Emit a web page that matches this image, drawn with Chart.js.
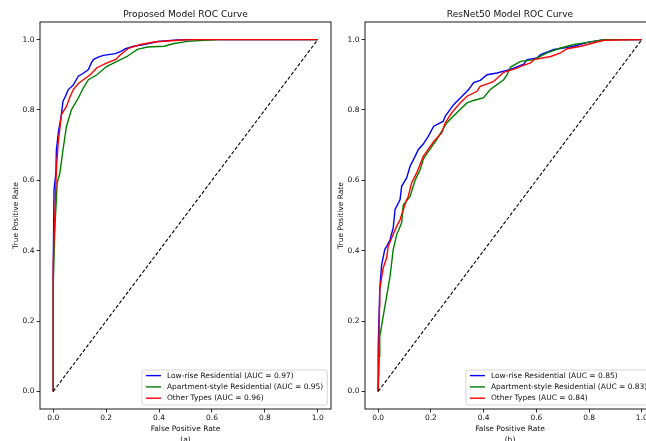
<!DOCTYPE html>
<html>
<head>
<meta charset="utf-8">
<script src="https://cdn.jsdelivr.net/npm/chart.js@4/dist/chart.umd.min.js"></script>
<style>
  html, body { margin: 0; padding: 0; background: #fff; overflow: hidden; }
  body { width: 646px; height: 441px; position: relative; }
  canvas { position: absolute; top: 0; }
  #left { left: 0; }
  #right { left: 325px; }
</style>
</head>
<body>
<canvas id="left" width="340" height="441"></canvas>
<canvas id="right" width="340" height="441"></canvas>
<script>
const tickValues = [0.0, 0.2, 0.4, 0.6, 0.8, 1.0];
const classLabels = ["Low-rise Residential", "Apartment-style Residential", "Other Types"];
const classColors = ["blue", "green", "red"];
const proposedAuc = [0.97, 0.95, 0.96];
const resnetAuc = [0.85, 0.83, 0.84];

// Proposed model curves
const propLowFpr = [0, 0, 0.003, 0.01, 0.012, 0.02, 0.029, 0.037, 0.047, 0.057, 0.075, 0.095, 0.115, 0.133, 0.145, 0.152, 0.17, 0.19, 0.235, 0.26, 0.273, 0.305, 0.343, 0.37, 0.394, 0.47, 0.52, 1];
const propLowTpr = [0, 0.35, 0.573, 0.62, 0.687, 0.74, 0.777, 0.825, 0.84, 0.858, 0.87, 0.896, 0.905, 0.915, 0.935, 0.943, 0.95, 0.955, 0.96, 0.968, 0.974, 0.981, 0.986, 0.99, 0.995, 0.999, 1.0, 1.0];
const propAptFpr = [0, 0, 0.006, 0.015, 0.025, 0.037, 0.05, 0.069, 0.095, 0.114, 0.133, 0.165, 0.203, 0.241, 0.279, 0.318, 0.356, 0.419, 0.457, 0.508, 0.572, 0.623, 1];
const propAptTpr = [0, 0.3, 0.46, 0.593, 0.62, 0.687, 0.753, 0.801, 0.834, 0.863, 0.886, 0.9, 0.924, 0.938, 0.952, 0.972, 0.979, 0.981, 0.989, 0.995, 0.998, 1.0, 1.0];
const propOthFpr = [0, 0, 0.006, 0.012, 0.018, 0.031, 0.05, 0.062, 0.076, 0.095, 0.114, 0.14, 0.165, 0.203, 0.235, 0.254, 0.286, 0.33, 0.381, 0.483, 0.53, 1];
const propOthTpr = [0, 0.36, 0.5, 0.63, 0.7, 0.787, 0.81, 0.835, 0.858, 0.875, 0.886, 0.9, 0.92, 0.934, 0.943, 0.957, 0.976, 0.986, 0.993, 0.999, 1.0, 1.0];

// ResNet50 curves
const resLowFpr = [0, 0, 0.006, 0.013, 0.025, 0.032, 0.045, 0.057, 0.064, 0.083, 0.089, 0.108, 0.121, 0.14, 0.152, 0.171, 0.19, 0.21, 0.247, 0.254, 0.286, 0.318, 0.343, 0.362, 0.387, 0.413, 0.451, 0.49, 0.514, 0.552, 0.565, 0.603, 0.616, 0.667, 0.743, 0.794, 0.857, 1];
const resLowTpr = [0, 0.12, 0.29, 0.36, 0.403, 0.412, 0.431, 0.465, 0.517, 0.545, 0.583, 0.607, 0.64, 0.668, 0.687, 0.703, 0.725, 0.753, 0.768, 0.782, 0.815, 0.839, 0.858, 0.878, 0.884, 0.9, 0.905, 0.913, 0.919, 0.93, 0.943, 0.948, 0.957, 0.972, 0.981, 0.992, 1.0, 1.0];
const resAptFpr = [0, 0.004, 0.006, 0.019, 0.032, 0.045, 0.057, 0.07, 0.089, 0.095, 0.121, 0.14, 0.159, 0.171, 0.184, 0.222, 0.26, 0.298, 0.337, 0.362, 0.4, 0.425, 0.451, 0.476, 0.489, 0.502, 0.54, 0.59, 0.641, 0.692, 0.743, 0.794, 0.857, 1];
const resAptTpr = [0, 0.1, 0.156, 0.213, 0.27, 0.327, 0.403, 0.445, 0.479, 0.53, 0.554, 0.6, 0.63, 0.66, 0.675, 0.716, 0.763, 0.792, 0.82, 0.827, 0.835, 0.858, 0.872, 0.886, 0.9, 0.922, 0.938, 0.943, 0.962, 0.976, 0.986, 0.992, 1.0, 1.0];
const resOthFpr = [0, 0.005, 0.006, 0.019, 0.032, 0.038, 0.051, 0.07, 0.083, 0.089, 0.108, 0.114, 0.127, 0.146, 0.171, 0.21, 0.241, 0.254, 0.279, 0.311, 0.337, 0.375, 0.387, 0.425, 0.438, 0.476, 0.527, 0.54, 0.578, 0.59, 0.654, 0.692, 0.717, 0.768, 0.819, 0.857, 1];
const resOthTpr = [0, 0.24, 0.29, 0.351, 0.38, 0.412, 0.436, 0.469, 0.488, 0.502, 0.545, 0.554, 0.593, 0.621, 0.668, 0.71, 0.735, 0.763, 0.792, 0.82, 0.839, 0.853, 0.867, 0.877, 0.881, 0.907, 0.919, 0.924, 0.934, 0.943, 0.952, 0.962, 0.974, 0.981, 0.991, 0.998, 1.0];

const chanceFpr = [0, 1];
const chanceTpr = [0, 1];

const FONT = "'DejaVu Sans', sans-serif";
Chart.defaults.font.family = FONT;
Chart.defaults.font.size = 7.5;
Chart.defaults.color = "#000";

function toPoints(fpr, tpr) {
  return fpr.map((x, i) => ({ x: x, y: tpr[i] }));
}

// titles, axis labels, frame and legend
const rocDecor = {
  id: "rocDecor",
  afterDraw(chart, args, opts) {
    const ctx = chart.ctx;
    const a = chart.chartArea;
    const midX = (a.left + a.right) / 2;
    const midY = (a.top + a.bottom) / 2;
    ctx.save();

    // frame
    ctx.strokeStyle = "#000";
    ctx.lineWidth = 0.9;
    ctx.strokeRect(a.left, a.top, a.right - a.left, a.bottom - a.top);

    ctx.fillStyle = "#111";
    ctx.textAlign = "center";
    ctx.textBaseline = "middle";
    ctx.font = "9.1px " + FONT;
    ctx.fillText(opts.title, midX, 15);

    ctx.font = "7.5px " + FONT;
    ctx.fillText("False Positive Rate", midX, 429);
    ctx.fillText(opts.sub, midX, 440);

    ctx.save();
    ctx.translate(a.left - 24, midY);
    ctx.rotate(-Math.PI / 2);
    ctx.fillText("True Positive Rate", 0, 0);
    ctx.restore();

    // legend in lower right
    const labels = classLabels.map((l, i) => l + " (AUC = " + opts.auc[i].toFixed(2) + ")");
    let maxW = 0;
    labels.forEach(l => { maxW = Math.max(maxW, ctx.measureText(l).width); });
    const boxW = 25 + maxW + 4;
    const boxH = 35;
    const right = a.right - 3.7;
    const bottom = a.bottom - 4;
    const left = right - boxW;
    const top = bottom - boxH;
    ctx.beginPath();
    ctx.roundRect(left, top, boxW, boxH, 2);
    ctx.fillStyle = "rgba(255,255,255,0.8)";
    ctx.fill();
    ctx.strokeStyle = "#cccccc";
    ctx.lineWidth = 0.8;
    ctx.stroke();

    ctx.textAlign = "left";
    labels.forEach((l, i) => {
      const y = bottom - 6.8 - 11.3 * (labels.length - 1 - i);
      ctx.strokeStyle = classColors[i];
      ctx.lineWidth = 1.4;
      ctx.beginPath();
      ctx.moveTo(left + 4, y);
      ctx.lineTo(left + 19, y);
      ctx.stroke();
      ctx.fillStyle = "#111";
      ctx.fillText(l, left + 25, y);
    });
    ctx.restore();
  }
};

function axis(isX) {
  return {
    type: "linear",
    min: -0.05,
    max: 1.05,
    afterBuildTicks: s => { s.ticks = tickValues.map(v => ({ value: v })); },
    afterFit: s => {
      if (isX) s.height = 32; else s.width = 40;
    },
    grid: { drawOnChartArea: false, drawTicks: true, tickLength: 3.5, color: "#000", lineWidth: 0.8 },
    border: { display: false },
    ticks: {
      padding: isX ? 1.5 : 2,
      color: "#111",
      font: { size: 7.5 },
      maxRotation: 0,
      autoSkip: false,
      callback: v => Number(v).toFixed(1)
    }
  };
}

function makeChart(id, curves, title, sub, auc, padRight) {
  const datasets = curves.map((c, i) => ({
    label: classLabels[i],
    data: toPoints(c[0], c[1]),
    borderColor: classColors[i],
    borderWidth: 1.4,
    pointRadius: 0,
    showLine: true,
    fill: false,
    order: 3 - i
  }));
  datasets.push({
    label: "chance",
    data: toPoints(chanceFpr, chanceTpr),
    borderColor: "#000",
    borderWidth: 1.1,
    borderDash: [3.5, 2],
    pointRadius: 0,
    showLine: true,
    order: 0
  });

  return new Chart(document.getElementById(id).getContext("2d"), {
    type: "scatter",
    data: { datasets: datasets },
    options: {
      responsive: false,
      animation: false,
      layout: { padding: { top: 22, right: padRight, left: 0, bottom: 0 } },
      scales: { x: axis(true), y: axis(false) },
      plugins: {
        legend: { display: false },
        tooltip: { enabled: false },
        rocDecor: { title: title, sub: sub, auc: auc }
      }
    },
    plugins: [rocDecor]
  });
}

makeChart("left",
  [[propLowFpr, propLowTpr], [propAptFpr, propAptTpr], [propOthFpr, propOthTpr]],
  "Proposed Model ROC Curve", "(a)", proposedAuc, 9);

makeChart("right",
  [[resLowFpr, resLowTpr], [resAptFpr, resAptTpr], [resOthFpr, resOthTpr]],
  "ResNet50 Model ROC Curve", "(b)", resnetAuc, 10);
</script>
</body>
</html>
